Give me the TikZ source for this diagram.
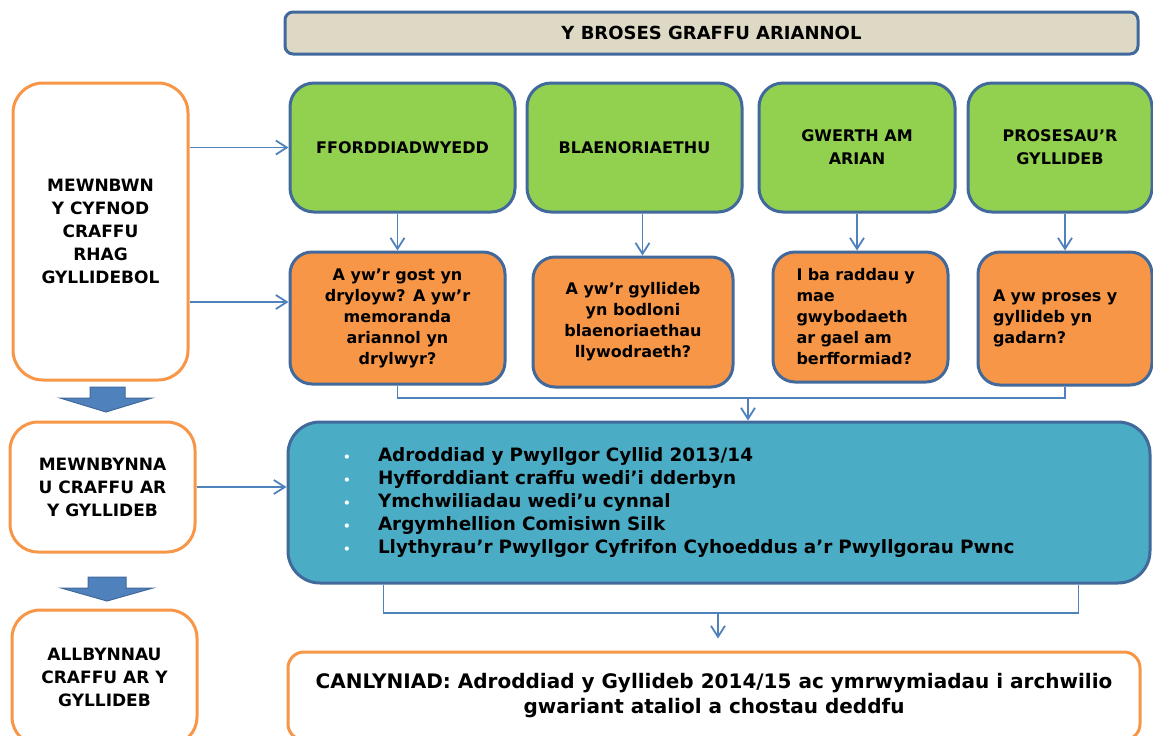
\documentclass[tikz,border=0pt]{standalone}
\usepackage{fontspec}
\setmainfont{DejaVu Sans}
\usetikzlibrary{arrows.meta}

\definecolor{boxblue}{RGB}{65,105,155}
\definecolor{linkblue}{RGB}{79,129,189}
\definecolor{leafgreen}{RGB}{146,208,80}
\definecolor{qorange}{RGB}{247,150,70}
\definecolor{listblue}{RGB}{75,172,198}
\definecolor{bannergrey}{RGB}{221,217,196}

\tikzset{
  banner/.style={draw=boxblue, line width=1.5pt, fill=bannergrey, rounded corners=4pt,
    font=\bfseries\fontsize{9}{11}\selectfont},
  topic/.style={draw=boxblue, line width=1.5pt, fill=leafgreen, rounded corners=12pt,
    align=center, minimum height=64.5pt, font=\bfseries\fontsize{8}{11.5}\selectfont},
  question/.style={draw=boxblue, line width=1.5pt, fill=qorange, rounded corners=11pt,
    font=\bfseries\fontsize{8}{10.5}\selectfont},
  stage/.style={draw=qorange, line width=1.5pt, fill=white, rounded corners=14pt,
    align=center, font=\bfseries\fontsize{8.5}{11.5}\selectfont},
  conn/.style={draw=linkblue, line width=0.9pt, -{Straight Barb[length=5.5pt,width=7pt]}},
  link/.style={draw=linkblue, line width=0.9pt},
  bigarrow/.style={fill=linkblue, draw=boxblue, line width=0.5pt}
}

\newcommand{\itemdot}{\makebox[17.5pt][l]{\textcolor{white}{\fontsize{6}{6}\selectfont •}}}

\begin{document}
\begin{tikzpicture}[x=0.5pt, y=-0.5pt]
\useasboundingbox (0,0) rectangle (1153,735);
\clip (0,0) rectangle (1153,735);

% top banner
\node[banner, minimum width=426.5pt, minimum height=21pt] (head) at (711.5,33) {Y BROSES GRAFFU ARIANNOL};

% stages on the left
\node[stage, minimum width=87.5pt, minimum height=148.5pt, rounded corners=15pt] (inp) at (100.5,231.5) {MEWNBWN\\Y CYFNOD\\CRAFFU\\RHAG\\GYLLIDEBOL};
\node[stage, minimum width=92.5pt, minimum height=65pt] (mid) at (102.5,487) {MEWNBYNNA\\U CRAFFU AR\\Y GYLLIDEB};
\node[stage, minimum width=92.5pt, minimum height=67.5pt] (outp) at (104.5,677.5) {ALLBYNNAU\\CRAFFU AR Y\\GYLLIDEB};

\filldraw[bigarrow] (90,387) -- (125,387) -- (125,398) -- (152,398) -- (106,412) -- (60,398) -- (90,398) -- cycle;
\filldraw[bigarrow] (88,577) -- (126,577) -- (126,588) -- (153,588) -- (107,601) -- (61,588) -- (88,588) -- cycle;

% themes
\node[topic, minimum width=112.5pt] (g1) at (402.5,147.5) {FFORDDIADWYEDD};
\node[topic, minimum width=107.5pt] (g2) at (634.5,147.5) {BLAENORIAETHU};
\node[topic, minimum width=98pt] (g3) at (857,147.5) {GWERTH AM\\ARIAN};
\node[topic, minimum width=92pt] (g4) at (1060,147.5) {PROSESAU’R\\GYLLIDEB};

% questions
\node[question, minimum width=107.5pt, minimum height=66pt, align=center] (o1) at (397.5,318) {A yw’r gost yn\\dryloyw? A yw’r\\memoranda\\ariannol yn\\drylwyr?};
\node[question, minimum width=100pt, minimum height=65pt, align=center] (o2) at (633,322) {A yw’r gyllideb\\yn bodloni\\blaenoriaethau\\llywodraeth?};
\node[question, minimum width=87.5pt, minimum height=65pt, align=left, text width=64pt] (o3) at (860.5,317) {I ba raddau y\\mae\\gwybodaeth\\ar gael am\\berfformiad?};
\node[question, minimum width=87pt, minimum height=66.5pt, align=left, text width=72pt] (o4) at (1065,318.5) {A yw proses y\\gyllideb yn\\gadarn?};

% inputs
\node[draw=boxblue, line width=1.5pt, fill=listblue, rounded corners=16pt,
  minimum width=431pt, minimum height=80.5pt, text width=376pt, align=left,
  font=\bfseries\fontsize{9.2}{11.5}\selectfont] (blue) at (719,502.5)
  {\itemdot Adroddiad y Pwyllgor Cyllid 2013/14\\
   \itemdot Hyfforddiant craffu wedi’i dderbyn\\
   \itemdot Ymchwiliadau wedi’u cynnal\\
   \itemdot Argymhellion Comisiwn Silk\\
   \itemdot Llythyrau’r Pwyllgor Cyfrifon Cyhoeddus a’r Pwyllgorau Pwnc};

% outcome
\node[stage, minimum width=426pt, minimum height=44pt, rounded corners=8pt,
  font=\bfseries\fontsize{10}{12.5}\selectfont] (res) at (714,696)
  {CANLYNIAD: Adroddiad y Gyllideb 2014/15 ac ymrwymiadau i archwilio\\gwariant ataliol a chostau deddfu};

% connectors
\draw[conn] (inp.east |- g1.west) -- (g1.west);
\draw[conn] ([yshift=8pt]o1.west -| inp.east) -- ([yshift=8pt]o1.west);
\draw[conn] (mid.east) -- (mid.east -| blue.west);

\draw[conn] (g1.south -| o1.north) -- (o1.north);
\draw[conn] ([xshift=4pt]g2.south) -- ([xshift=4pt]g2.south |- o2.north);
\draw[conn] (g3.south) -- (g3.south |- o3.north);
\draw[conn] (g4.south -| o4.north) -- (o4.north);

\coordinate (join) at (748,398);
\draw[link] (o1.south) |- (join) -| (o4.south);
\draw[conn] (join) -- (join |- blue.north);

\coordinate (split) at (718,613);
\draw[link] ([xshift=48.5pt]blue.south west) |- (split) -| ([xshift=-36.5pt]blue.south east);
\draw[conn, shorten >=6pt] (split) -- (split |- res.north);
\end{tikzpicture}
\end{document}
